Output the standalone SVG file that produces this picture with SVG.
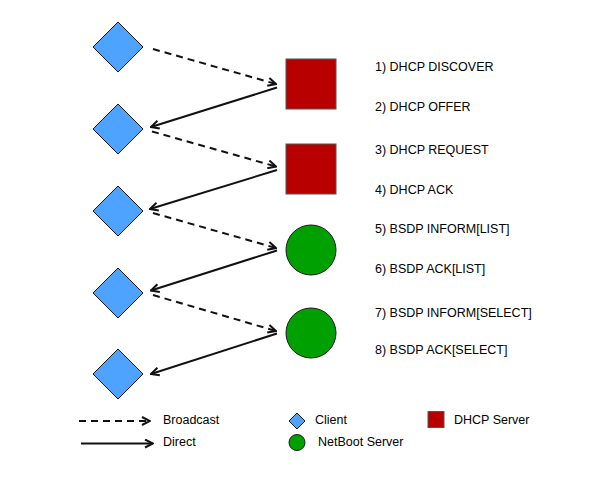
<svg xmlns="http://www.w3.org/2000/svg" width="603" height="477" viewBox="0 0 603 477">
<defs>
<style>
.client{fill:#4da3ff;stroke:#1a1a1a;stroke-width:1}
.dhcp{fill:#b80000;stroke:#555;stroke-width:1}
.netboot{fill:#00a000;stroke:#1a1a1a;stroke-width:1}
.bc{stroke:#111;stroke-width:2;fill:none;stroke-dasharray:7 5;marker-end:url(#arr)}
.dr{stroke:#111;stroke-width:2;fill:none;marker-end:url(#arr)}
text{font-family:"Liberation Sans",Arial,sans-serif;font-size:12.5px;fill:#000}
</style>
<marker id="arr" viewBox="0 0 10 10" refX="9" refY="5" markerWidth="5" markerHeight="5" orient="auto" markerUnits="strokeWidth">
<path d="M1,1 L9,5 L1,9" fill="none" stroke="#111" stroke-width="2" stroke-linejoin="miter"/>
</marker>
</defs>
<rect width="603" height="477" fill="#fff"/>
<g id="connectors">
<line class="bc" x1="153" y1="49" x2="276" y2="84"/>
<line class="dr" x1="277" y1="87.5" x2="151" y2="127"/>
<line class="bc" x1="152" y1="131.5" x2="276" y2="166.5"/>
<line class="dr" x1="277" y1="170" x2="150" y2="209"/>
<line class="bc" x1="153" y1="213" x2="276" y2="248"/>
<line class="dr" x1="277" y1="250.5" x2="151" y2="290.5"/>
<line class="bc" x1="153" y1="295" x2="276" y2="331"/>
<line class="dr" x1="277" y1="333.5" x2="151" y2="374"/>
</g>
<g id="client1"><polygon class="client" points="118,22 143,47 118,72 93,47"/></g>
<g id="client2"><polygon class="client" points="118,104 143,129 118,154 93,129"/></g>
<g id="client3"><polygon class="client" points="118,186 143,211 118,236 93,211"/></g>
<g id="client4"><polygon class="client" points="118,268 143,293 118,318 93,293"/></g>
<g id="client5"><polygon class="client" points="118,349 143,374 118,399 93,374"/></g>
<g id="dhcp1"><rect class="dhcp" x="286" y="59" width="50" height="50"/></g>
<g id="dhcp2"><rect class="dhcp" x="286" y="144" width="50" height="50"/></g>
<g id="netboot1"><circle class="netboot" cx="311" cy="250" r="25"/></g>
<g id="netboot2"><circle class="netboot" cx="311" cy="333" r="25"/></g>
<g id="labels">
<text x="375" y="71">1) DHCP DISCOVER</text>
<text x="375" y="111">2) DHCP OFFER</text>
<text x="375" y="153.5">3) DHCP REQUEST</text>
<text x="375" y="194">4) DHCP ACK</text>
<text x="375" y="233">5) BSDP INFORM[LIST]</text>
<text x="375" y="273">6) BSDP ACK[LIST]</text>
<text x="375" y="317">7) BSDP INFORM[SELECT]</text>
<text x="375" y="354">8) BSDP ACK[SELECT]</text>
</g>
<g id="legend">
<line class="bc" x1="79" y1="421" x2="150" y2="421"/>
<line class="dr" x1="81" y1="443.5" x2="153" y2="443.5"/>
<text x="163" y="423.5">Broadcast</text>
<text x="163" y="446">Direct</text>
<polygon class="client" points="297,413 305,421 297,429 289,421"/>
<text x="315" y="423.5">Client</text>
<circle class="netboot" cx="297" cy="442.5" r="8"/>
<text x="318" y="446">NetBoot Server</text>
<rect class="dhcp" x="428" y="411.5" width="16" height="16"/>
<text x="454" y="423.5">DHCP Server</text>
</g>
</svg>
